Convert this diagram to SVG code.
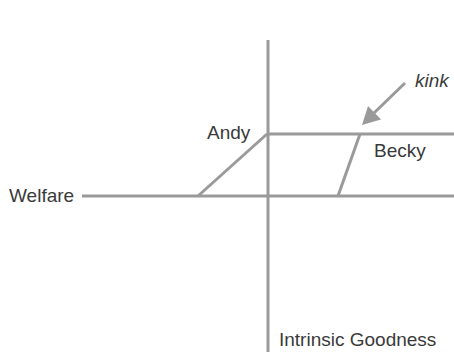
<svg xmlns="http://www.w3.org/2000/svg" width="454" height="352" viewBox="0 0 454 352">
<style>
.ln{stroke:#9a9a9a;stroke-width:3;fill:none;stroke-linecap:butt}
.t{font-family:"Liberation Sans",Arial,sans-serif;font-size:19px;fill:#3a3a3a}
</style>
<rect width="454" height="352" fill="#fff"/>
<g id="axes">
<line class="ln" x1="268" y1="40" x2="268" y2="352"/>
<line class="ln" x1="82" y1="196" x2="454" y2="196"/>
</g>
<g id="connectors">
<line class="ln" x1="198" y1="196" x2="267" y2="134"/>
<line class="ln" x1="267" y1="134" x2="454" y2="134"/>
<line class="ln" x1="338" y1="196" x2="360" y2="134"/>
<line class="ln" x1="405" y1="83" x2="374" y2="113" stroke-width="4.5"/>
<polygon points="362,125 381,119.5 368,106" fill="#9a9a9a"/>
</g>
<g id="welfare"><text class="t" x="9" y="202">Welfare</text></g>
<g id="andy"><text class="t" x="207" y="139">Andy</text></g>
<g id="becky"><text class="t" x="374" y="157">Becky</text></g>
<g id="kink"><text class="t" x="415" y="87" font-style="italic">kink</text></g>
<g id="goodness"><text class="t" x="279" y="346">Intrinsic Goodness</text></g>
</svg>
